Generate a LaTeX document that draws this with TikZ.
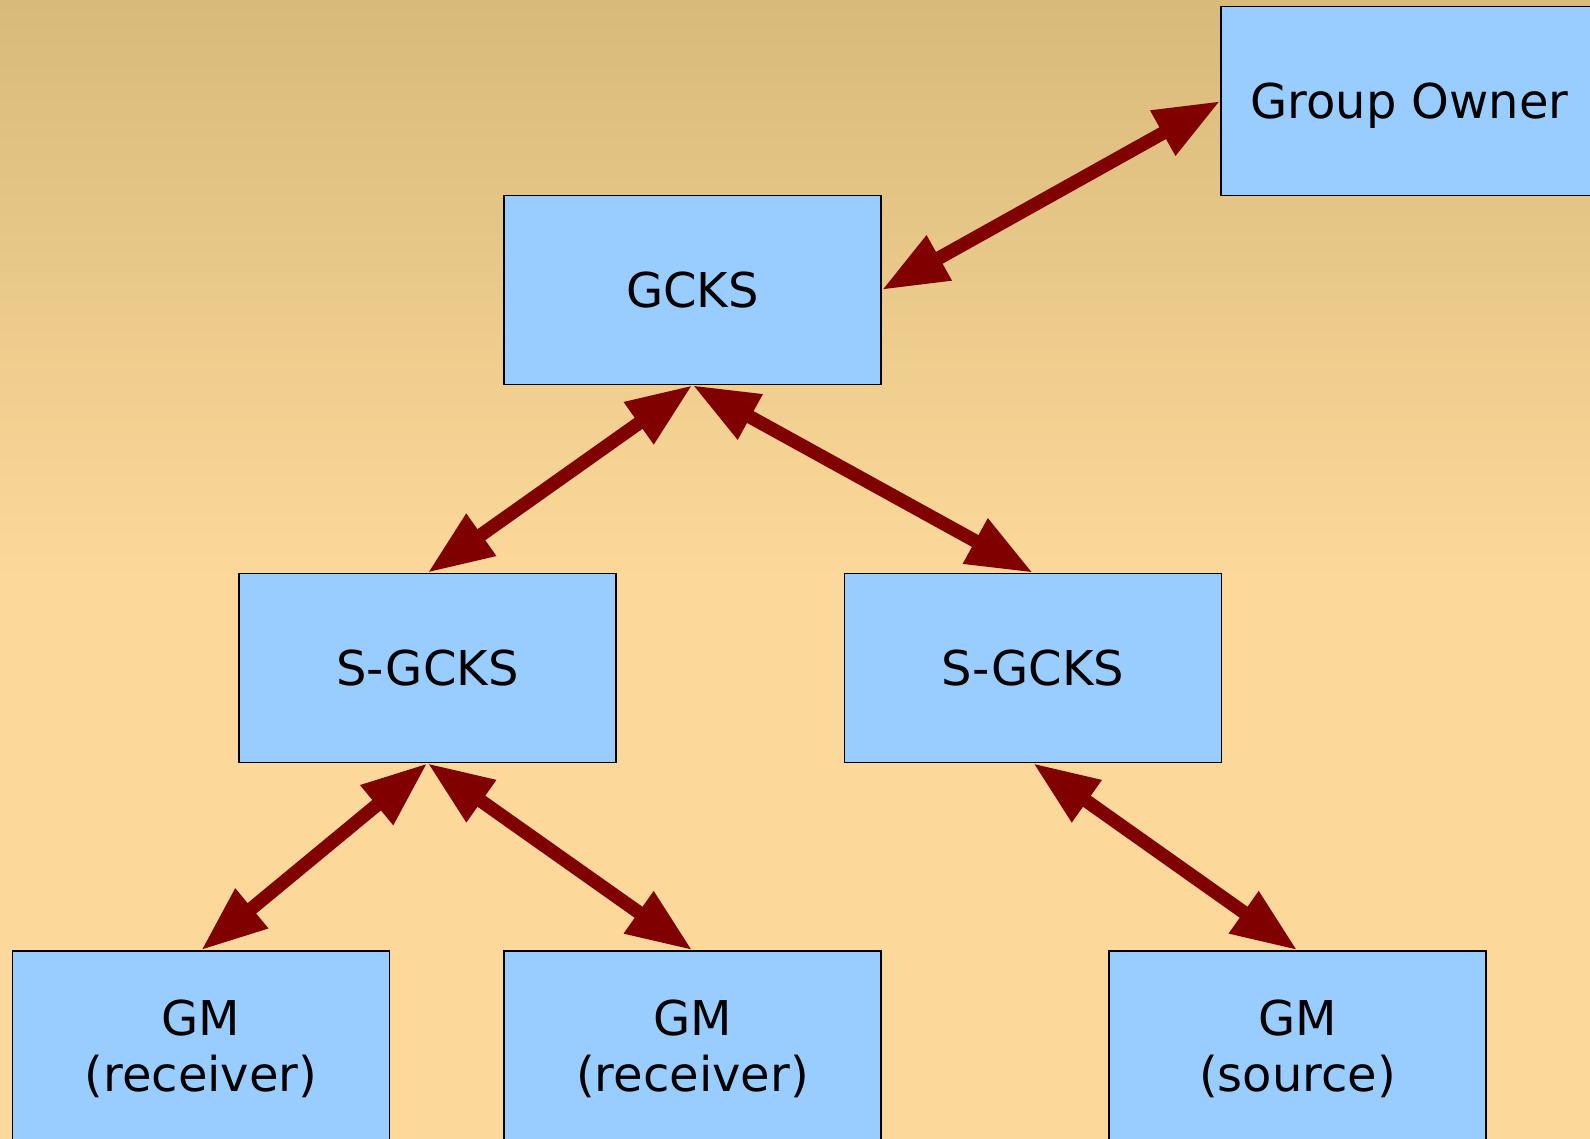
\documentclass[tikz,border=0pt]{standalone}
\usepackage{fontspec}
\setmainfont{DejaVu Sans}
\usetikzlibrary{arrows.meta}
\definecolor{bgtop}{HTML}{D8BA7A}
\definecolor{bgbot}{HTML}{FCD99A}
\definecolor{boxfill}{HTML}{99CCFF}
\definecolor{arrowred}{HTML}{800000}
\begin{document}
\begin{tikzpicture}[x=1pt,y=-1pt,
  entity/.style={draw=black, line width=1.3pt, fill=boxfill, rectangle,
    minimum width=377pt, minimum height=189pt, inner sep=0pt, align=center,
    font=\fontsize{48}{56}\selectfont},
  link/.style={draw=arrowred, line width=13.5pt,
    {Triangle[length=66pt,width=48pt]}-{Triangle[length=66pt,width=48pt]}}]
  \useasboundingbox (0,0) rectangle (1590,1139);
  \clip (0,0) rectangle (1590,1139);
  % background
  \shade[top color=bgtop, bottom color=bgbot] (0,0) rectangle (1590,580);
  \fill[bgbot] (0,579) rectangle (1590,1139);
  % hierarchy
  \node[entity, text depth=0pt] (go) at (1409.5,101) {Group Owner};
  \node[entity] (gcks) at (692.5,290) {GCKS};
  \node[entity] (sl) at (427.5,668) {S-GCKS};
  \node[entity] (sr) at (1033,668) {S-GCKS};
  \node[entity, text depth=0pt] (gml) at (201,1045.5) {GM\\(receiver)};
  \node[entity, text depth=0pt] (gmm) at (692.5,1045.5) {GM\\(receiver)};
  \node[entity, text depth=0pt] (gmr) at (1297.5,1045.5) {GM\\(source)};
  % links
  \draw[link] (gcks.east) -- (go.west);
  \draw[link] (sl.north) -- (gcks.south);
  \draw[link] (gcks.south) -- (sr.north);
  \draw[link] (gml.north) -- (sl.south);
  \draw[link] (sl.south) -- (gmm.north);
  \draw[link] (sr.south) -- (gmr.north);
\end{tikzpicture}
\end{document}
